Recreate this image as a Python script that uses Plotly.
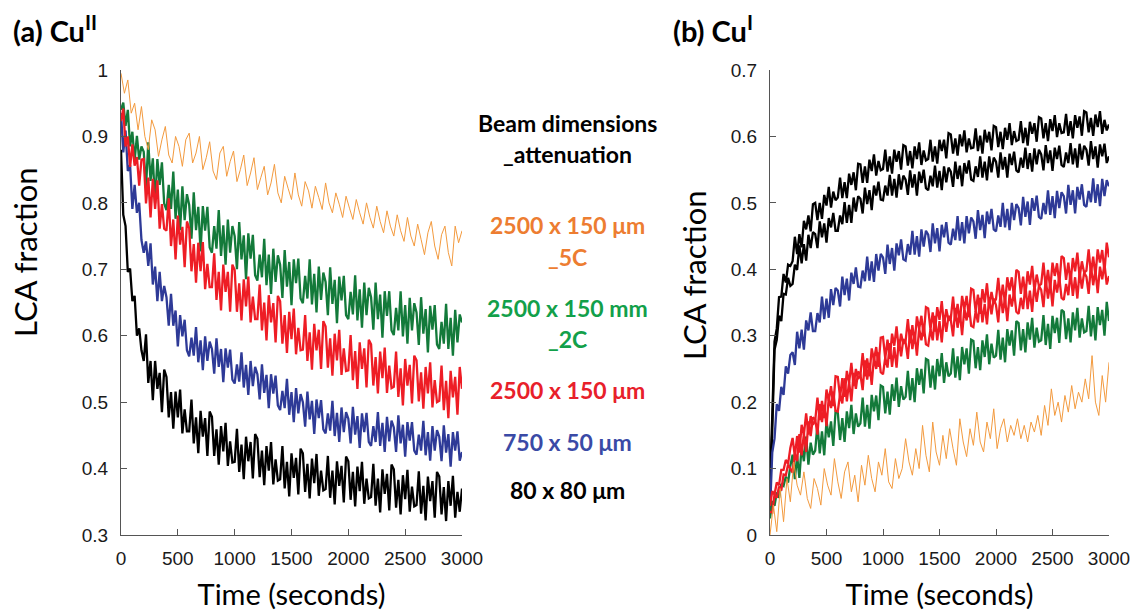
import plotly.graph_objects as go

# Sample times (s): dense acquisitions every 20 s, 5C-attenuated runs every 30 s
time_dense = list(range(0, 3001, 20))
time_sparse = list(range(0, 3001, 30))

# (a) Cu(II) LCA fraction
cu2_80x80 = [
    0.88, 0.782, 0.765, 0.696, 0.701, 0.652, 0.66, 0.6, 0.611, 0.578,
    0.562, 0.602, 0.529, 0.562, 0.503, 0.562, 0.52, 0.544, 0.485, 0.549,
    0.538, 0.477, 0.515, 0.46, 0.516, 0.477, 0.519, 0.453, 0.489, 0.456,
    0.456, 0.504, 0.438, 0.477, 0.423, 0.487, 0.448, 0.476, 0.419, 0.486,
    0.478, 0.419, 0.459, 0.406, 0.464, 0.426, 0.469, 0.404, 0.441, 0.409,
    0.41, 0.46, 0.395, 0.436, 0.384, 0.448, 0.411, 0.44, 0.385, 0.452,
    0.445, 0.387, 0.427, 0.375, 0.434, 0.397, 0.44, 0.376, 0.414, 0.382,
    0.384, 0.434, 0.37, 0.41, 0.358, 0.423, 0.386, 0.416, 0.361, 0.43,
    0.423, 0.365, 0.407, 0.355, 0.415, 0.378, 0.422, 0.359, 0.397, 0.367,
    0.369, 0.419, 0.356, 0.397, 0.346, 0.411, 0.374, 0.404, 0.349, 0.418,
    0.411, 0.353, 0.395, 0.343, 0.403, 0.366, 0.41, 0.347, 0.385, 0.355,
    0.357, 0.407, 0.344, 0.385, 0.334, 0.399, 0.362, 0.392, 0.337, 0.406,
    0.399, 0.341, 0.383, 0.331, 0.39, 0.354, 0.398, 0.335, 0.373, 0.343,
    0.345, 0.396, 0.332, 0.374, 0.322, 0.388, 0.351, 0.381, 0.326, 0.395,
    0.388, 0.331, 0.372, 0.321, 0.381, 0.344, 0.389, 0.326, 0.365, 0.335,
    0.37]
cu2_750x50 = [
    0.935, 0.876, 0.909, 0.848, 0.857, 0.791, 0.827, 0.785, 0.8, 0.744,
    0.725, 0.742, 0.705, 0.739, 0.677, 0.704, 0.652, 0.696, 0.652, 0.675,
    0.658, 0.615, 0.663, 0.615, 0.638, 0.584, 0.631, 0.599, 0.624, 0.578,
    0.569, 0.597, 0.57, 0.613, 0.56, 0.593, 0.548, 0.599, 0.562, 0.591,
    0.58, 0.543, 0.596, 0.553, 0.58, 0.53, 0.581, 0.552, 0.579, 0.534,
    0.528, 0.557, 0.531, 0.575, 0.522, 0.556, 0.511, 0.562, 0.524, 0.553,
    0.542, 0.504, 0.557, 0.514, 0.541, 0.491, 0.542, 0.513, 0.54, 0.495,
    0.488, 0.517, 0.491, 0.535, 0.481, 0.515, 0.47, 0.521, 0.483, 0.512,
    0.5, 0.463, 0.516, 0.474, 0.502, 0.452, 0.504, 0.476, 0.503, 0.459,
    0.453, 0.483, 0.457, 0.502, 0.449, 0.484, 0.44, 0.492, 0.455, 0.485,
    0.475, 0.438, 0.493, 0.451, 0.479, 0.431, 0.483, 0.455, 0.484, 0.44,
    0.434, 0.464, 0.44, 0.485, 0.434, 0.469, 0.425, 0.478, 0.441, 0.472,
    0.462, 0.425, 0.48, 0.438, 0.466, 0.418, 0.47, 0.442, 0.47, 0.427,
    0.421, 0.451, 0.427, 0.472, 0.42, 0.455, 0.412, 0.464, 0.427, 0.458,
    0.448, 0.411, 0.465, 0.424, 0.452, 0.403, 0.455, 0.427, 0.456, 0.412,
    0.425]
cu2_2500x150 = [
    0.923, 0.942, 0.885, 0.9, 0.854, 0.888, 0.856, 0.869, 0.826, 0.865,
    0.866, 0.799, 0.838, 0.778, 0.836, 0.791, 0.834, 0.761, 0.798, 0.761,
    0.758, 0.807, 0.735, 0.775, 0.715, 0.781, 0.737, 0.764, 0.703, 0.772,
    0.762, 0.697, 0.738, 0.68, 0.74, 0.697, 0.741, 0.67, 0.708, 0.673,
    0.673, 0.724, 0.654, 0.696, 0.638, 0.707, 0.666, 0.696, 0.636, 0.707,
    0.699, 0.636, 0.679, 0.623, 0.685, 0.644, 0.689, 0.62, 0.659, 0.625,
    0.625, 0.677, 0.608, 0.65, 0.593, 0.661, 0.62, 0.649, 0.59, 0.66,
    0.652, 0.588, 0.631, 0.574, 0.636, 0.595, 0.641, 0.572, 0.612, 0.578,
    0.579, 0.631, 0.562, 0.605, 0.549, 0.618, 0.578, 0.609, 0.55, 0.622,
    0.614, 0.552, 0.596, 0.54, 0.603, 0.563, 0.609, 0.541, 0.581, 0.547,
    0.548, 0.601, 0.533, 0.577, 0.52, 0.59, 0.55, 0.581, 0.522, 0.594,
    0.587, 0.525, 0.568, 0.513, 0.576, 0.536, 0.582, 0.514, 0.555, 0.521,
    0.523, 0.576, 0.508, 0.551, 0.495, 0.565, 0.525, 0.556, 0.498, 0.57,
    0.563, 0.501, 0.545, 0.49, 0.553, 0.513, 0.56, 0.492, 0.533, 0.5,
    0.502, 0.555, 0.488, 0.532, 0.476, 0.547, 0.507, 0.538, 0.481, 0.553,
    0.52]
cu2_2500x150_2c = [
    0.94, 0.951, 0.916, 0.94, 0.885, 0.907, 0.864, 0.901, 0.865, 0.885,
    0.877, 0.823, 0.891, 0.833, 0.867, 0.799, 0.866, 0.827, 0.861, 0.799,
    0.789, 0.827, 0.791, 0.847, 0.776, 0.82, 0.759, 0.825, 0.774, 0.813,
    0.797, 0.746, 0.816, 0.759, 0.794, 0.727, 0.795, 0.758, 0.794, 0.733,
    0.725, 0.765, 0.731, 0.789, 0.72, 0.766, 0.707, 0.775, 0.725, 0.765,
    0.75, 0.7, 0.771, 0.715, 0.751, 0.685, 0.754, 0.716, 0.752, 0.691,
    0.683, 0.722, 0.688, 0.746, 0.676, 0.722, 0.663, 0.731, 0.681, 0.721,
    0.707, 0.657, 0.729, 0.674, 0.711, 0.646, 0.715, 0.679, 0.716, 0.656,
    0.649, 0.69, 0.656, 0.715, 0.647, 0.693, 0.635, 0.704, 0.654, 0.695,
    0.681, 0.631, 0.703, 0.648, 0.684, 0.619, 0.689, 0.653, 0.69, 0.631,
    0.625, 0.666, 0.632, 0.691, 0.623, 0.67, 0.612, 0.68, 0.631, 0.672,
    0.658, 0.609, 0.68, 0.625, 0.662, 0.597, 0.667, 0.63, 0.667, 0.608,
    0.601, 0.642, 0.608, 0.667, 0.599, 0.646, 0.588, 0.657, 0.608, 0.649,
    0.635, 0.586, 0.658, 0.603, 0.64, 0.575, 0.645, 0.609, 0.646, 0.587,
    0.58, 0.621, 0.588, 0.648, 0.58, 0.627, 0.57, 0.639, 0.59, 0.632,
    0.62]
cu2_2500x150_5c = [
    0.995, 0.965, 0.985, 0.935, 0.95, 0.91, 0.945, 0.9, 0.88, 0.925,
    0.91, 0.87, 0.895, 0.915, 0.872, 0.86, 0.9, 0.885, 0.855, 0.895,
    0.905, 0.86, 0.875, 0.9, 0.85, 0.868, 0.892, 0.848, 0.835, 0.875,
    0.885, 0.84, 0.862, 0.878, 0.832, 0.85, 0.872, 0.826, 0.845, 0.868,
    0.82, 0.838, 0.855, 0.812, 0.83, 0.858, 0.815, 0.8, 0.84, 0.822,
    0.805, 0.845, 0.812, 0.795, 0.832, 0.818, 0.792, 0.825, 0.808, 0.79,
    0.83, 0.8, 0.785, 0.815, 0.798, 0.778, 0.81, 0.792, 0.775, 0.805,
    0.785, 0.768, 0.8, 0.778, 0.762, 0.795, 0.772, 0.755, 0.788, 0.765,
    0.75, 0.782, 0.758, 0.742, 0.778, 0.75, 0.735, 0.768, 0.745, 0.722,
    0.755, 0.772, 0.735, 0.715, 0.752, 0.765, 0.725, 0.705, 0.765, 0.74,
    0.758]

# (b) Cu(I) LCA fraction
cu1_80x80_a = [
    0.082, 0.179, 0.291, 0.311, 0.358, 0.359, 0.393, 0.38, 0.407, 0.405,
    0.412, 0.449, 0.423, 0.453, 0.433, 0.473, 0.46, 0.481, 0.457, 0.498,
    0.5, 0.474, 0.5, 0.476, 0.512, 0.496, 0.524, 0.493, 0.517, 0.504,
    0.508, 0.538, 0.507, 0.531, 0.507, 0.544, 0.527, 0.546, 0.519, 0.559,
    0.558, 0.53, 0.555, 0.53, 0.565, 0.548, 0.573, 0.541, 0.563, 0.549,
    0.551, 0.58, 0.547, 0.57, 0.544, 0.58, 0.562, 0.578, 0.55, 0.587,
    0.585, 0.556, 0.578, 0.552, 0.585, 0.566, 0.591, 0.557, 0.579, 0.564,
    0.566, 0.595, 0.562, 0.585, 0.559, 0.595, 0.578, 0.595, 0.567, 0.605,
    0.603, 0.574, 0.597, 0.571, 0.603, 0.585, 0.609, 0.576, 0.597, 0.582,
    0.583, 0.612, 0.578, 0.601, 0.574, 0.61, 0.591, 0.607, 0.579, 0.616,
    0.614, 0.584, 0.607, 0.581, 0.613, 0.595, 0.62, 0.587, 0.608, 0.593,
    0.595, 0.623, 0.59, 0.613, 0.586, 0.622, 0.604, 0.62, 0.592, 0.629,
    0.627, 0.597, 0.62, 0.593, 0.626, 0.608, 0.632, 0.599, 0.62, 0.605,
    0.606, 0.634, 0.601, 0.623, 0.597, 0.632, 0.613, 0.63, 0.601, 0.638,
    0.636, 0.606, 0.628, 0.601, 0.633, 0.614, 0.638, 0.604, 0.625, 0.609,
    0.618]
cu1_80x80_b = [
    0.055, 0.157, 0.279, 0.294, 0.33, 0.322, 0.363, 0.362, 0.387, 0.375,
    0.378, 0.407, 0.399, 0.436, 0.409, 0.438, 0.413, 0.452, 0.432, 0.456,
    0.453, 0.432, 0.472, 0.448, 0.469, 0.44, 0.477, 0.463, 0.485, 0.458,
    0.458, 0.481, 0.468, 0.501, 0.47, 0.497, 0.47, 0.508, 0.487, 0.51,
    0.506, 0.484, 0.523, 0.498, 0.519, 0.489, 0.526, 0.511, 0.532, 0.505,
    0.504, 0.526, 0.511, 0.542, 0.511, 0.536, 0.508, 0.543, 0.52, 0.541,
    0.535, 0.512, 0.549, 0.523, 0.543, 0.511, 0.547, 0.53, 0.55, 0.522,
    0.519, 0.541, 0.525, 0.556, 0.523, 0.548, 0.519, 0.555, 0.531, 0.553,
    0.547, 0.524, 0.562, 0.536, 0.556, 0.525, 0.56, 0.544, 0.564, 0.535,
    0.533, 0.555, 0.539, 0.57, 0.538, 0.562, 0.534, 0.57, 0.546, 0.568,
    0.562, 0.538, 0.576, 0.55, 0.569, 0.538, 0.574, 0.557, 0.577, 0.549,
    0.546, 0.568, 0.553, 0.583, 0.551, 0.575, 0.547, 0.582, 0.558, 0.58,
    0.573, 0.549, 0.587, 0.56, 0.579, 0.548, 0.583, 0.566, 0.586, 0.557,
    0.554, 0.576, 0.56, 0.59, 0.558, 0.582, 0.553, 0.589, 0.565, 0.586,
    0.58, 0.556, 0.593, 0.566, 0.585, 0.553, 0.588, 0.57, 0.589, 0.56,
    0.57]
cu1_750x50 = [
    0.036, 0.124, 0.145, 0.197, 0.187, 0.223, 0.211, 0.254, 0.243, 0.271,
    0.275, 0.256, 0.306, 0.281, 0.309, 0.279, 0.323, 0.308, 0.335, 0.307,
    0.307, 0.334, 0.32, 0.359, 0.325, 0.356, 0.327, 0.37, 0.346, 0.372,
    0.368, 0.344, 0.389, 0.361, 0.386, 0.353, 0.395, 0.378, 0.403, 0.374,
    0.373, 0.398, 0.382, 0.419, 0.383, 0.412, 0.381, 0.423, 0.398, 0.423,
    0.418, 0.393, 0.437, 0.408, 0.432, 0.398, 0.439, 0.421, 0.445, 0.415,
    0.413, 0.438, 0.422, 0.458, 0.422, 0.45, 0.419, 0.46, 0.434, 0.458,
    0.452, 0.426, 0.469, 0.439, 0.462, 0.427, 0.467, 0.448, 0.471, 0.44,
    0.437, 0.461, 0.444, 0.48, 0.443, 0.471, 0.439, 0.48, 0.454, 0.478,
    0.472, 0.446, 0.489, 0.459, 0.482, 0.447, 0.487, 0.468, 0.491, 0.46,
    0.457, 0.481, 0.464, 0.5, 0.463, 0.491, 0.459, 0.5, 0.474, 0.498,
    0.492, 0.466, 0.509, 0.479, 0.502, 0.467, 0.507, 0.488, 0.511, 0.479,
    0.476, 0.5, 0.483, 0.519, 0.482, 0.51, 0.477, 0.518, 0.492, 0.516,
    0.51, 0.484, 0.527, 0.497, 0.519, 0.484, 0.524, 0.505, 0.528, 0.497,
    0.494, 0.518, 0.501, 0.537, 0.5, 0.528, 0.495, 0.536, 0.51, 0.534,
    0.525]
cu1_2500x150_a = [
    0.044, 0.066, 0.061, 0.079, 0.075, 0.098, 0.098, 0.113, 0.107, 0.131,
    0.146, 0.118, 0.149, 0.124, 0.166, 0.151, 0.183, 0.151, 0.179, 0.166,
    0.172, 0.207, 0.173, 0.202, 0.176, 0.219, 0.202, 0.224, 0.194, 0.239,
    0.238, 0.207, 0.236, 0.208, 0.247, 0.229, 0.259, 0.224, 0.25, 0.235,
    0.24, 0.274, 0.239, 0.266, 0.239, 0.281, 0.263, 0.283, 0.253, 0.297,
    0.298, 0.266, 0.294, 0.265, 0.303, 0.285, 0.314, 0.278, 0.303, 0.288,
    0.292, 0.325, 0.289, 0.316, 0.288, 0.329, 0.31, 0.33, 0.299, 0.343,
    0.341, 0.309, 0.335, 0.306, 0.343, 0.324, 0.352, 0.315, 0.34, 0.323,
    0.326, 0.359, 0.322, 0.348, 0.32, 0.36, 0.34, 0.36, 0.328, 0.371,
    0.369, 0.336, 0.362, 0.333, 0.37, 0.35, 0.379, 0.342, 0.366, 0.349,
    0.355, 0.387, 0.351, 0.377, 0.348, 0.388, 0.368, 0.388, 0.356, 0.399,
    0.396, 0.363, 0.389, 0.36, 0.397, 0.377, 0.405, 0.368, 0.392, 0.375,
    0.378, 0.41, 0.373, 0.399, 0.37, 0.41, 0.39, 0.409, 0.377, 0.42,
    0.417, 0.384, 0.41, 0.38, 0.417, 0.397, 0.425, 0.388, 0.412, 0.395,
    0.398, 0.43, 0.393, 0.419, 0.39, 0.43, 0.41, 0.429, 0.397, 0.44,
    0.418]
cu1_2500x150_b = [
    0.035, 0.034, 0.061, 0.056, 0.073, 0.067, 0.091, 0.09, 0.106, 0.1,
    0.094, 0.123, 0.111, 0.152, 0.12, 0.153, 0.125, 0.171, 0.149, 0.177,
    0.174, 0.151, 0.197, 0.17, 0.196, 0.164, 0.207, 0.191, 0.216, 0.187,
    0.186, 0.212, 0.198, 0.236, 0.201, 0.231, 0.201, 0.244, 0.22, 0.246,
    0.242, 0.218, 0.263, 0.234, 0.259, 0.226, 0.268, 0.25, 0.275, 0.245,
    0.242, 0.267, 0.252, 0.289, 0.253, 0.283, 0.252, 0.294, 0.269, 0.295,
    0.29, 0.265, 0.309, 0.28, 0.304, 0.27, 0.311, 0.293, 0.317, 0.287,
    0.285, 0.31, 0.293, 0.33, 0.293, 0.322, 0.29, 0.331, 0.306, 0.33,
    0.324, 0.299, 0.342, 0.312, 0.336, 0.301, 0.341, 0.323, 0.346, 0.315,
    0.313, 0.337, 0.32, 0.357, 0.32, 0.348, 0.317, 0.358, 0.332, 0.356,
    0.346, 0.32, 0.364, 0.334, 0.357, 0.322, 0.362, 0.344, 0.367, 0.336,
    0.333, 0.357, 0.34, 0.377, 0.34, 0.368, 0.336, 0.377, 0.351, 0.375,
    0.369, 0.343, 0.386, 0.356, 0.379, 0.344, 0.384, 0.365, 0.388, 0.357,
    0.354, 0.378, 0.361, 0.397, 0.36, 0.388, 0.356, 0.397, 0.371, 0.395,
    0.389, 0.363, 0.406, 0.376, 0.399, 0.364, 0.404, 0.385, 0.408, 0.377,
    0.39]
cu1_2500x150_2c = [
    0.025, 0.051, 0.044, 0.064, 0.056, 0.077, 0.074, 0.088, 0.079, 0.104,
    0.121, 0.084, 0.119, 0.086, 0.134, 0.111, 0.148, 0.106, 0.139, 0.121,
    0.127, 0.167, 0.123, 0.156, 0.12, 0.172, 0.147, 0.171, 0.134, 0.186,
    0.184, 0.143, 0.176, 0.14, 0.186, 0.161, 0.196, 0.152, 0.183, 0.163,
    0.168, 0.207, 0.163, 0.196, 0.16, 0.211, 0.186, 0.21, 0.173, 0.225,
    0.223, 0.183, 0.216, 0.181, 0.227, 0.202, 0.237, 0.193, 0.224, 0.204,
    0.208, 0.247, 0.203, 0.236, 0.2, 0.251, 0.226, 0.25, 0.213, 0.265,
    0.263, 0.222, 0.255, 0.219, 0.265, 0.239, 0.274, 0.229, 0.26, 0.239,
    0.243, 0.281, 0.237, 0.269, 0.233, 0.283, 0.257, 0.281, 0.243, 0.294,
    0.292, 0.251, 0.283, 0.248, 0.293, 0.268, 0.302, 0.257, 0.288, 0.267,
    0.27, 0.309, 0.264, 0.297, 0.26, 0.31, 0.285, 0.308, 0.27, 0.322,
    0.319, 0.278, 0.31, 0.275, 0.32, 0.294, 0.327, 0.282, 0.312, 0.291,
    0.293, 0.331, 0.286, 0.318, 0.28, 0.33, 0.304, 0.327, 0.289, 0.339,
    0.336, 0.295, 0.326, 0.29, 0.335, 0.308, 0.342, 0.297, 0.326, 0.305,
    0.307, 0.345, 0.299, 0.331, 0.293, 0.343, 0.316, 0.339, 0.3, 0.351,
    0.322]
cu1_2500x150_5c = [
    0.0, 0.045, 0.005, 0.07, 0.02, 0.085, 0.05, 0.11, 0.075, 0.06,
    0.095, 0.055, 0.04, 0.085, 0.07, 0.045, 0.1, 0.075, 0.06, 0.115,
    0.08, 0.055, 0.095, 0.11, 0.065, 0.09, 0.05, 0.105, 0.075, 0.12,
    0.085, 0.065, 0.11, 0.09, 0.13, 0.08, 0.07, 0.115, 0.085, 0.1,
    0.145, 0.11, 0.09, 0.13, 0.1, 0.165, 0.12, 0.095, 0.17, 0.125,
    0.105, 0.15, 0.115, 0.16, 0.13, 0.105, 0.175, 0.14, 0.118, 0.16,
    0.135, 0.185, 0.14, 0.125, 0.17, 0.145, 0.19, 0.13, 0.16, 0.175,
    0.14, 0.165, 0.15, 0.175, 0.145, 0.165, 0.14, 0.17, 0.155, 0.18,
    0.15, 0.195, 0.165, 0.22, 0.18, 0.2, 0.17, 0.21, 0.185, 0.225,
    0.19, 0.215, 0.2, 0.235, 0.205, 0.27, 0.2, 0.18, 0.24, 0.2,
    0.26]

x_ticks = [0, 500, 1000, 1500, 2000, 2500, 3000]
y_ticks_a = [0.3, 0.4, 0.5, 0.6, 0.7, 0.8, 0.9, 1.0]
y_ticks_b = [0, 0.1, 0.2, 0.3, 0.4, 0.5, 0.6, 0.7]

C_ORANGE = "#F39A3E"
C_GREEN = "#137A3A"
C_RED = "#EE1D25"
C_BLUE = "#2E3A97"
C_BLACK = "#000000"

fig = go.Figure()

def add(t, y, color, xa, ya, width=2.3):
    fig.add_trace(go.Scatter(x=t, y=y, mode="lines", xaxis=xa, yaxis=ya,
                             line=dict(color=color, width=width, simplify=False),
                             showlegend=False, hoverinfo="skip"))

# panel (a)
add(time_dense, cu2_80x80, C_BLACK, "x", "y")
add(time_dense, cu2_750x50, C_BLUE, "x", "y")
add(time_dense, cu2_2500x150_2c, C_GREEN, "x", "y")
add(time_dense, cu2_2500x150, C_RED, "x", "y")
add(time_sparse, cu2_2500x150_5c, C_ORANGE, "x", "y", 1.0)

# panel (b)
add(time_dense, cu1_80x80_a, C_BLACK, "x2", "y2")
add(time_dense, cu1_80x80_b, C_BLACK, "x2", "y2")
add(time_dense, cu1_750x50, C_BLUE, "x2", "y2")
add(time_dense, cu1_2500x150_2c, C_GREEN, "x2", "y2")
add(time_dense, cu1_2500x150_a, C_RED, "x2", "y2")
add(time_dense, cu1_2500x150_b, C_RED, "x2", "y2")
add(time_sparse, cu1_2500x150_5c, C_ORANGE, "x2", "y2", 1.0)

W, H = 1132, 612
AX = "#555555"
label_font = "Lato, Noto Sans, sans-serif"
tickfont = dict(family="Liberation Sans, Arial, sans-serif", size=19, color="#1a1a1a")

def xaxis(dom, anchor):
    return dict(domain=dom, anchor=anchor, range=[0, 3000], tickvals=x_ticks,
                ticks="inside", ticklen=6, tickcolor=AX, tickwidth=1,
                showline=True, linecolor=AX, linewidth=1, showgrid=False,
                zeroline=False, tickfont=tickfont, ticklabelstandoff=6,
                automargin=False,
                title=dict(text="Time (seconds)", standoff=16,
                           font=dict(family=label_font, size=29, color="#000000")))

def yaxis(dom, anchor, rng, vals):
    return dict(domain=dom, anchor=anchor, range=rng, tickvals=vals,
                ticktext=[f"{v:g}" for v in vals],
                ticks="inside", ticklen=6, tickcolor=AX, tickwidth=1,
                showline=True, linecolor=AX, linewidth=1, showgrid=False,
                zeroline=False, tickfont=tickfont, ticklabelstandoff=8,
                automargin=False)

ydom = [1 - 535 / H, 1 - 70 / H]
fig.update_layout(
    width=W, height=H,
    margin=dict(l=0, r=0, t=0, b=0),
    paper_bgcolor="white", plot_bgcolor="white",
    xaxis=xaxis([121 / W, 462 / W], "y"),
    yaxis=yaxis(ydom, "x", [0.3, 1.0], y_ticks_a),
    xaxis2=xaxis([770 / W, 1109 / W], "y2"),
    yaxis2=yaxis(ydom, "x2", [0, 0.7], y_ticks_b),
)

def note(text, x, y, size, color="#000000", bold=False, angle=0,
         xanchor="center", yanchor="middle"):
    fig.add_annotation(text=f"<b>{text}</b>" if bold else text,
                       x=x / W, y=1 - y / H, xref="paper", yref="paper",
                       showarrow=False, textangle=angle, xanchor=xanchor, yanchor=yanchor,
                       font=dict(family=label_font, size=size, color=color))

# panel titles
note("(a) Cu<sup>II</sup>", 11, 29, 29, bold=True, xanchor="left")
note("(b) Cu<sup>I</sup>", 671, 29, 29, bold=True, xanchor="left")

# y-axis titles
note("LCA fraction", 25, 252, 31, angle=-90)
note("LCA fraction", 694, 275, 31, angle=-90)

# beam legend
note("Beam dimensions", 567, 123, 23, bold=True)
note("_attenuation", 567, 154, 23, bold=True)
note("2500 x 150 μm", 567, 225, 23, color="#ED7D31", bold=True)
note("_5C", 567, 257, 23, color="#ED7D31", bold=True)
note("2500 x 150 mm", 567, 308, 23, color="#12A04A", bold=True)
note("_2C", 567, 339, 23, color="#12A04A", bold=True)
note("2500 x 150 μm", 567, 390, 23, color="#E8202A", bold=True)
note("750 x 50 μm", 567, 442, 23, color="#3A4AA6", bold=True)
note("80 x 80 μm", 567, 490, 23, color="#000000", bold=True)

fig.write_html("out.html")
